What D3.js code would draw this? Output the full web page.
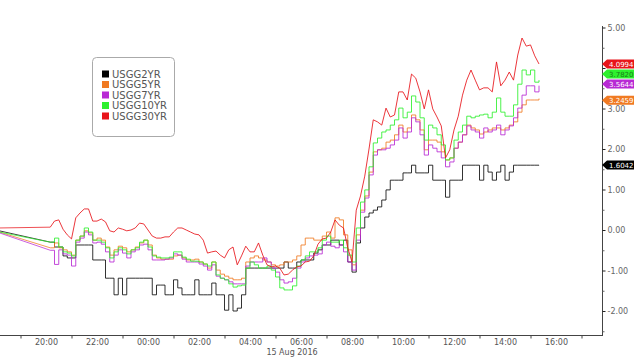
<!DOCTYPE html>
<html>
<head>
<meta charset="utf-8">
<script src="https://cdn.jsdelivr.net/npm/d3@7"></script>
<style>
  body { margin: 0; background: #fff; }
  svg text { font-family: "DejaVu Sans", sans-serif; }
</style>
</head>
<body>
<svg id="chart" width="639" height="359"></svg>
<script>
// first point is the Sunday 18:10 print, then a 10 minute grid from 20:10 to 15:20
const firstTime = new Date(2016, 7, 14, 18, 10)
const gridStart = new Date(2016, 7, 14, 20, 10)
const gridCount = 116
const times = [firstTime].concat(d3.range(gridCount).map(i => d3.timeMinute.offset(gridStart, i * 10)))

const seriesNames = ["USGG2YR", "USGG5YR", "USGG7YR", "USGG10YR", "USGG30YR"]
const seriesColors = ["#000000", "#f07a22", "#b82ad4", "#2ef02e", "#e8141a"]

const usgg2yr = [-0.02,
  -0.30, -0.42, -0.42, -0.64, -0.69, -0.69, -0.37, -0.37, -0.37, -0.37,
  -0.74, -0.74, -0.74, -1.19, -1.19, -1.60, -1.19, -1.60, -1.19, -1.19,
  -1.19, -1.19, -1.19, -1.19, -1.60, -1.36, -1.36, -1.60, -1.60, -1.23,
  -1.43, -1.60, -1.60, -1.60, -1.23, -1.60, -1.60, -1.60, -1.31, -1.60,
  -1.60, -1.98, -1.60, -2.00, -1.93, -1.60, -0.94, -0.94, -0.94, -0.94,
  -0.94, -0.94, -0.94, -0.94, -0.94, -0.79, -0.94, -0.94, -0.79, -0.74,
  -0.74, -0.74, -0.57, -0.49, -0.37, -0.37, -0.25, -0.25, -0.37, -0.25,
  -0.79, -1.04, -0.32, 0.05, 0.32, 0.42, 0.49, 0.57, 0.74, 0.99,
  1.23, 1.23, 1.23, 1.41, 1.41, 1.60, 1.41, 1.41, 1.41, 1.60,
  1.23, 1.23, 1.23, 0.81, 1.23, 1.23, 1.23, 1.60, 1.60, 1.60,
  1.60, 1.23, 1.60, 1.43, 1.23, 1.43, 1.60, 1.23, 1.43, 1.60,
  1.60, 1.60, 1.60, 1.60, 1.60, 1.6042]

const usgg5yr = [-0.05,
  -0.44, -0.32, -0.44, -0.49, -0.54, -0.62, -0.25, -0.15, -0.02, -0.07,
  -0.25, -0.20, -0.25, -0.42, -0.62, -0.49, -0.40, -0.44, -0.54, -0.49,
  -0.42, -0.32, -0.25, -0.37, -0.62, -0.69, -0.72, -0.72, -0.72, -0.64,
  -0.62, -0.69, -0.74, -0.74, -0.72, -0.79, -0.84, -0.94, -0.79, -0.99,
  -1.09, -1.14, -1.19, -1.23, -1.23, -1.19, -0.79, -0.69, -0.64, -0.69,
  -0.74, -0.79, -0.86, -0.89, -0.86, -0.79, -0.79, -0.74, -0.64, -0.37,
  -0.20, -0.20, -0.25, -0.25, -0.15, -0.05, -0.20, 0.30, 0.25, -0.12,
  -0.49, -0.86, -0.12, 0.49, 0.84, 1.43, 1.93, 1.98, 2.02, 2.17,
  2.22, 2.35, 2.59, 2.42, 2.52, 2.84, 2.72, 2.47, 1.98, 2.22,
  2.22, 2.17, 1.93, 1.73, 1.78, 2.02, 2.17, 2.35, 2.59, 2.52,
  2.47, 2.37, 2.42, 2.47, 2.52, 2.52, 2.47, 2.52, 2.59, 2.67,
  2.91, 3.09, 3.21, 3.21, 3.21, 3.2459]

const usgg7yr = [-0.07,
  -0.50, -0.85, -0.49, -0.59, -0.62, -0.89, -0.30, -0.20, -0.05, -0.12,
  -0.32, -0.30, -0.35, -0.54, -0.79, -0.62, -0.49, -0.57, -0.69, -0.54,
  -0.49, -0.37, -0.35, -0.49, -0.74, -0.74, -0.74, -0.72, -0.69, -0.59,
  -0.62, -0.72, -0.79, -0.79, -0.79, -0.84, -0.89, -0.99, -0.86, -1.14,
  -1.19, -1.23, -1.28, -1.33, -1.33, -1.33, -0.89, -0.79, -0.79, -0.79,
  -0.69, -0.79, -0.94, -1.04, -1.23, -1.31, -1.28, -1.19, -0.94, -0.79,
  -0.69, -0.64, -0.62, -0.59, -0.37, -0.30, -0.40, -0.44, -0.37, -0.54,
  -0.79, -0.99, -0.25, 0.44, 0.79, 1.36, 1.85, 1.98, 1.98, 2.02,
  2.10, 2.22, 2.52, 2.27, 2.42, 2.77, 2.67, 2.35, 1.85, 2.10,
  2.02, 1.93, 1.78, 1.56, 1.68, 2.02, 2.17, 2.35, 2.57, 2.47,
  2.42, 2.27, 2.52, 2.42, 2.47, 2.59, 2.35, 2.47, 2.57, 2.77,
  3.01, 3.33, 3.56, 3.56, 3.41, 3.5644]

const usgg10yr = [-0.05,
  -0.30, -0.20, -0.42, -0.54, -0.57, -0.64, -0.25, -0.15, 0.05, -0.05,
  -0.25, -0.25, -0.30, -0.44, -0.69, -0.54, -0.44, -0.49, -0.59, -0.49,
  -0.44, -0.30, -0.25, -0.42, -0.64, -0.67, -0.69, -0.69, -0.67, -0.54,
  -0.54, -0.67, -0.72, -0.77, -0.77, -0.79, -0.84, -0.89, -0.79, -1.11,
  -1.19, -1.23, -1.33, -1.41, -1.38, -1.36, -0.94, -0.79, -0.86, -0.94,
  -0.94, -0.89, -0.99, -1.16, -1.43, -1.48, -1.48, -1.38, -0.89, -0.74,
  -0.64, -0.54, -0.54, -0.44, -0.25, -0.15, -0.30, -0.30, -0.25, -0.44,
  -0.62, -0.79, 0.05, 0.69, 0.99, 1.56, 2.15, 2.27, 2.42, 2.47,
  2.59, 2.72, 3.01, 2.77, 2.91, 3.31, 3.16, 2.77, 2.22, 2.59,
  2.52, 2.35, 2.10, 1.73, 1.78, 2.22, 2.42, 2.59, 2.81, 2.77,
  2.81, 2.84, 2.86, 2.77, 2.91, 3.26, 2.91, 2.81, 2.81, 3.09,
  3.60, 3.95, 3.83, 3.95, 3.65, 3.70]

const usgg30yr = [0.05,
  0.07, 0.22, 0.25, 0.02, -0.12, -0.22, 0.30, 0.42, 0.52, 0.52,
  0.22, 0.22, 0.27, 0.20, -0.02, -0.05, 0.05, 0.02, -0.02, 0.00,
  0.05, 0.17, 0.15, 0.00, -0.15, -0.20, -0.20, -0.17, -0.17, -0.05,
  0.05, 0.05, 0.00, -0.05, -0.10, -0.12, -0.25, -0.57, -0.54, -0.52,
  -0.62, -0.69, -0.49, -0.42, -0.86, -0.64, -0.40, -0.54, -0.54, -0.32,
  -0.62, -0.86, -0.91, -0.89, -0.94, -1.11, -1.09, -0.99, -0.91, -0.89,
  -0.79, -0.77, -0.64, -0.35, -0.22, -0.20, -0.05, 0.25, 0.12, 0.05,
  -0.44, -0.79, 0.49, 0.84, 1.33, 2.00, 2.72, 2.67, 2.59, 3.01,
  2.79, 2.84, 3.41, 3.41, 3.21, 3.85, 3.75, 3.41, 2.99, 3.46,
  2.99, 2.79, 2.57, 1.78, 1.98, 2.47, 2.81, 3.33, 3.70, 3.95,
  3.70, 3.46, 3.51, 3.51, 3.41, 4.15, 3.56, 3.70, 3.90, 3.70,
  4.32, 4.74, 4.54, 4.57, 4.30, 4.0994]

const seriesValues = [usgg2yr, usgg5yr, usgg7yr, usgg10yr, usgg30yr]
const lastLabels = ["1.6042", "3.2459", "3.5644", "3.7820", "4.0994"]
const yTicks = [-2, -1, 0, 1, 2, 3, 4, 5]
const dateLabel = "15 Aug 2016"

const width = 639, height = 359
const axisX = 602, axisY = 335

const svg = d3.select("#chart")

const x = d3.scaleTime()
  .domain([new Date(2016, 7, 14, 20, 0), new Date(2016, 7, 15, 16, 0)])
  .range([46, 556])
const y = d3.scaleLinear()
  .domain([-2, 5])
  .range([311, 27.5])

svg.append("clipPath").attr("id", "plot")
  .append("rect").attr("x", 0).attr("y", 0).attr("width", axisX).attr("height", axisY)

// lines
const stepLine = d3.line().x(d => x(d[0])).y(d => y(d[1])).curve(d3.curveStepAfter)
const straight = d3.line().x(d => x(d[0])).y(d => y(d[1]))
const lines = svg.append("g").attr("clip-path", "url(#plot)")
seriesValues.forEach((vals, k) => {
  const pts = vals.map((v, i) => [times[i], v])
  lines.append("path")
    .attr("d", straight(pts.slice(0, 2)))
    .attr("fill", "none").attr("stroke", seriesColors[k]).attr("stroke-width", 1).attr("opacity", 0.75)
  lines.append("path")
    .attr("d", k == 4 ? straight(pts.slice(1)) : stepLine(pts.slice(1)))
    .attr("fill", "none").attr("stroke", seriesColors[k]).attr("stroke-width", 1)
    .attr("opacity", k == 0 ? 0.8 : 0.85)
})

// right axis
svg.append("line").attr("x1", axisX + 0.5).attr("x2", axisX + 0.5).attr("y1", 26).attr("y2", axisY + 0.5)
  .attr("stroke", "#444")
const yAxis = svg.append("g").attr("transform", `translate(${axisX + 0.5},0)`)
  .call(d3.axisRight(y).tickValues(yTicks).tickSize(3).tickPadding(2)
    .tickFormat(d => d == 4 ? "" : d.toFixed(2)))   // 4.00 sits under the value tags
yAxis.select(".domain").remove()
yAxis.selectAll("line").attr("stroke", "#222")
yAxis.selectAll("text").attr("font-size", 8).attr("fill", "#666")
const yMinor = svg.append("g").attr("transform", `translate(${axisX + 0.5},0)`)
  .call(d3.axisRight(y).tickValues(d3.range(-2.5, 5, 1)).tickSize(2).tickFormat(""))
yMinor.select(".domain").remove()
yMinor.selectAll("line").attr("stroke", "#666")

// bottom axis
svg.append("line").attr("x1", 0).attr("x2", axisX + 1).attr("y1", axisY + 0.5).attr("y2", axisY + 0.5)
  .attr("stroke", "#444")
const xTicks = svg.append("g").attr("transform", `translate(0,${axisY + 0.5})`)
  .call(d3.axisBottom(x)
    .tickValues(d3.timeHour.range(new Date(2016, 7, 14, 19), new Date(2016, 7, 15, 18), 2))
    .tickSize(3).tickFormat(""))
xTicks.select(".domain").remove()
xTicks.selectAll("line").attr("stroke", "#444")
const xLabels = svg.append("g").attr("transform", `translate(0,${axisY + 0.5})`)
  .call(d3.axisBottom(x)
    .tickValues(d3.timeHour.range(new Date(2016, 7, 14, 20), new Date(2016, 7, 15, 17), 2))
    .tickSize(0).tickPadding(4).tickFormat(d3.timeFormat("%H:%M")))
xLabels.select(".domain").remove()
xLabels.selectAll("text").attr("font-size", 8).attr("fill", "#555")
svg.append("text").attr("x", 292).attr("y", 355).attr("text-anchor", "middle")
  .attr("font-size", 8).attr("fill", "#555").text(dateLabel)

// last value tags, stacked 10px apart like the terminal does
const tagY = {}
const byY = [4, 3, 2, 1, 0].map(k => ({ k, ty: y(seriesValues[k][seriesValues[k].length - 1]) }))
byY.sort((a, b) => a.ty - b.ty)
for (let i = 1; i < byY.length; i++) {
  if (byY[i].ty - byY[i - 1].ty < 10) byY[i].ty = byY[i - 1].ty + 10
}
byY.forEach(d => { tagY[d.k] = d.ty })
// green is squeezed in right under red
tagY[3] = tagY[4] + 10
tagY[2] = tagY[3] + 10
const tagOrder = [0, 1, 3, 2, 4]
tagOrder.forEach(k => {
  const g = svg.append("g").attr("transform", `translate(${axisX},${tagY[k]})`)
  g.append("path").attr("d", "M0,0L5,-4.5L32,-4.5L32,4.5L5,4.5Z").attr("fill", seriesColors[k])
  g.append("text").attr("x", 7).attr("y", 2.6).attr("font-size", 7)
    .attr("fill", k == 3 ? "#1a7a1a" : "#fff").text(lastLabels[k])
})

// legend
const legend = svg.append("g")
legend.append("rect").attr("x", 92.5).attr("y", 57.5).attr("width", 82).attr("height", 79).attr("rx", 4)
  .attr("fill", "#fff").attr("stroke", "#aaa")
seriesNames.forEach((name, i) => {
  const ly = 74 + i * 10.5
  legend.append("rect").attr("x", 102).attr("y", ly - 3.5).attr("width", 7).attr("height", 7).attr("fill", seriesColors[i])
  legend.append("text").attr("x", 112).attr("y", ly + 3.8).attr("font-size", 10).attr("fill", "#555").text(name)
})
</script>
</body>
</html>
